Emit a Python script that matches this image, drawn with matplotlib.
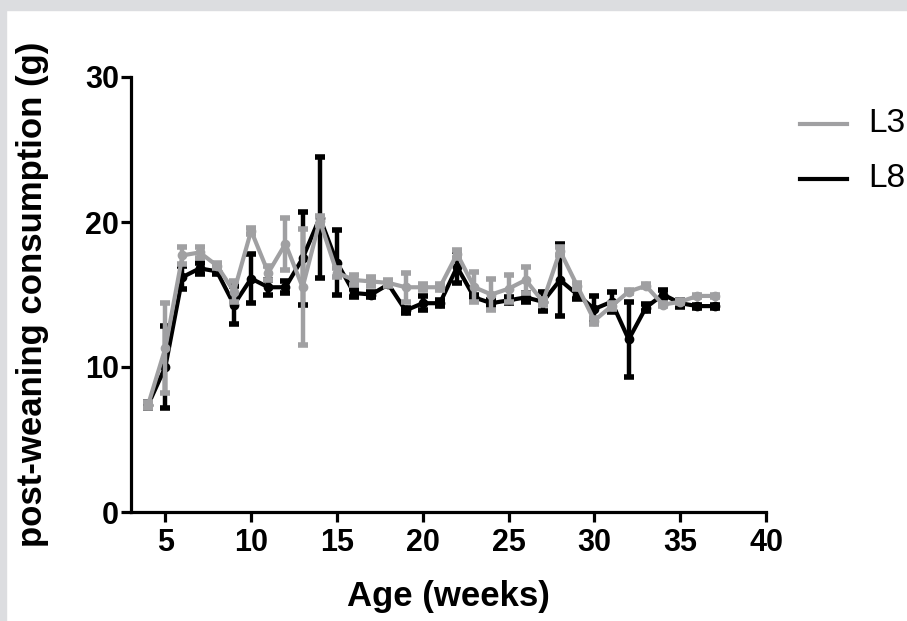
import numpy as np
import matplotlib.pyplot as plt

weeks = list(range(4, 38))

l3_mean = [7.4, 11.3, 17.7, 17.9, 17.0, 15.2, 19.4, 16.5, 18.5, 15.5, 20.1, 16.5,
           16.0, 15.9, 15.8, 15.5, 15.5, 15.5, 17.8, 15.5, 15.0, 15.4, 16.0, 14.5,
           18.0, 15.6, 13.2, 14.2, 15.2, 15.6, 14.3, 14.5, 14.9, 14.9]
l3_err = [0.2, 3.1, 0.6, 0.4, 0.2, 0.7, 0.2, 0.5, 1.8, 4.0, 0.3, 0.3,
          0.35, 0.3, 0.2, 1.0, 0.2, 0.2, 0.3, 1.05, 1.05, 0.95, 0.9, 0.2,
          0.3, 0.2, 0.2, 0.2, 0.1, 0.1, 0.1, 0.1, 0.1, 0.1]

l8_mean = [7.4, 10.0, 16.2, 16.8, 16.6, 14.3, 16.1, 15.5, 15.5, 17.5, 20.3, 17.2,
           15.1, 15.0, 15.7, 13.9, 14.4, 14.4, 16.9, 14.8, 14.4, 14.6, 14.8, 14.5,
           16.0, 15.0, 14.0, 14.5, 11.9, 14.1, 15.0, 14.4, 14.2, 14.2]
l8_err = [0.2, 2.8, 0.8, 0.4, 0.2, 1.3, 1.7, 0.5, 0.4, 3.2, 4.15, 2.25,
          0.3, 0.2, 0.1, 0.2, 0.5, 0.2, 1.1, 0.2, 0.2, 0.2, 0.3, 0.65,
          2.45, 0.3, 0.9, 0.7, 2.6, 0.25, 0.3, 0.25, 0.1, 0.1]

grey = '#a0a0a2'

plt.rcParams['font.family'] = ['Liberation Sans', 'DejaVu Sans']

fig = plt.figure(figsize=(9.07, 6.21), dpi=100)
# grey page border (top and left)
fig.patches.append(plt.Rectangle((0, 1 - 10 / 621), 1, 10 / 621, transform=fig.transFigure,
                                 color='#dcdde0', zorder=0))
fig.patches.append(plt.Rectangle((0, 0), 6 / 907, 1, transform=fig.transFigure,
                                 color='#dcdde0', zorder=0))

ax = fig.add_axes([131 / 907, 1 - 512 / 621, 635 / 907, 435 / 621])

for mean, err, col, lab, z in [(l8_mean, l8_err, 'black', 'L8', 3),
                               (l3_mean, l3_err, grey, 'L3', 4)]:
    line, caps, bars = ax.errorbar(weeks, mean, yerr=err, color=col, lw=3, elinewidth=3.2,
                                   capsize=3.5, capthick=4, marker='o', ms=6,
                                   zorder=z, label=lab)
    line.set_solid_joinstyle('round')
    for c in caps:
        c.set_solid_capstyle('round')

ax.set_xlim(3, 40)
ax.set_ylim(0, 30)
ax.set_xticks([5, 10, 15, 20, 25, 30, 35, 40])
ax.set_yticks([0, 10, 20, 30])
for s in ['top', 'right']:
    ax.spines[s].set_visible(False)
for s in ['left', 'bottom']:
    ax.spines[s].set_linewidth(2.3)
ax.tick_params(width=2.3, length=7.5, labelsize=22)
ax.tick_params(axis='x', pad=4)
ax.tick_params(axis='y', pad=1)
for lab in ax.get_xticklabels() + ax.get_yticklabels():
    lab.set_fontweight('bold')

ax.set_xlabel('Age (weeks)', fontsize=25, fontweight='bold', labelpad=16)
ax.set_ylabel('post-weaning consumption (g)', fontsize=25, fontweight='bold', labelpad=26)

# legend outside on the right (clipped by the figure edge like the original)
fig.lines.append(plt.Line2D([800 / 907, 847 / 907], [1 - 124 / 621] * 2,
                            transform=fig.transFigure, color=grey, lw=3))
fig.lines.append(plt.Line2D([800 / 907, 847 / 907], [1 - 179 / 621] * 2,
                            transform=fig.transFigure, color='black', lw=3))
fig.text(868 / 907, 1 - 124 / 621, 'L3', fontsize=24, va='center', ha='left')
fig.text(868 / 907, 1 - 179 / 621, 'L8', fontsize=24, va='center', ha='left')

fig.savefig('out.png', dpi=100)
